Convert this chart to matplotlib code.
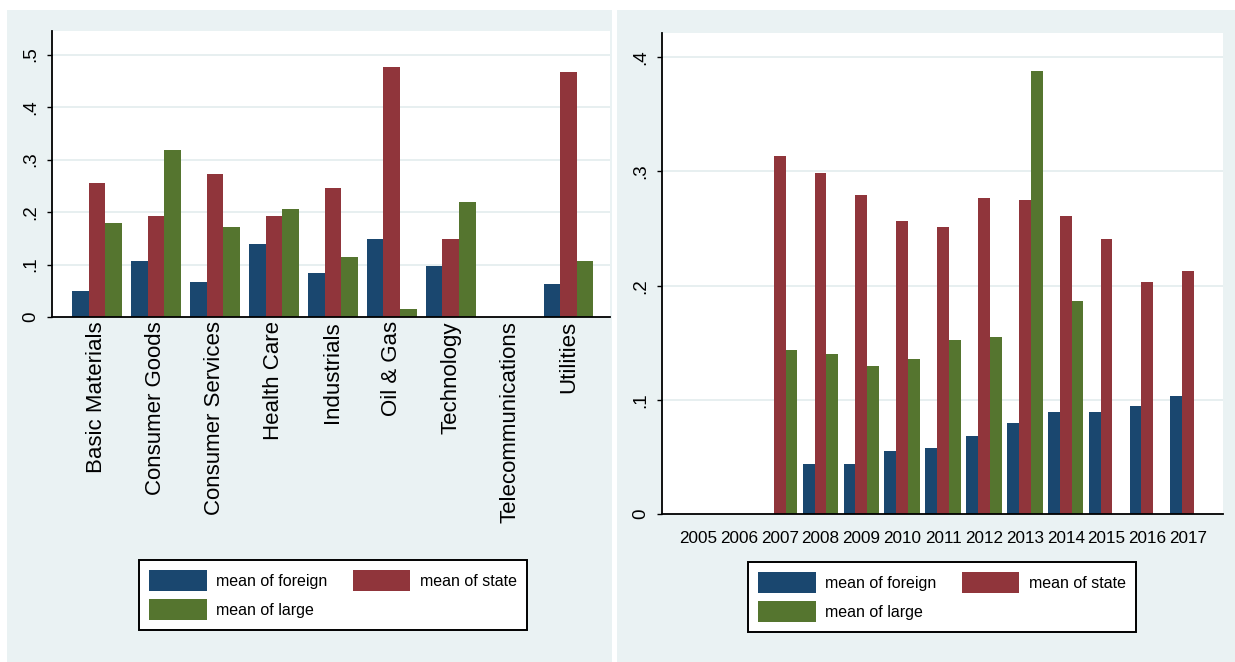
import numpy as np
import matplotlib
matplotlib.use("Agg")
import matplotlib.pyplot as plt
from matplotlib.patches import Patch, Rectangle

# Data
sectors = ["Basic Materials", "Consumer Goods", "Consumer Services", "Health Care",
           "Industrials", "Oil & Gas", "Technology", "Telecommunications", "Utilities"]
sector_foreign = [0.049, 0.106, 0.067, 0.139, 0.084, 0.149, 0.098, np.nan, 0.062]
sector_state = [0.255, 0.193, 0.273, 0.193, 0.246, 0.476, 0.149, np.nan, 0.467]
sector_large = [0.180, 0.319, 0.171, 0.206, 0.114, 0.015, 0.219, np.nan, 0.107]

years = ["2005", "2006", "2007", "2008", "2009", "2010", "2011",
         "2012", "2013", "2014", "2015", "2016", "2017"]
year_foreign = [np.nan, np.nan, np.nan, 0.044, 0.044, 0.055, 0.058,
                0.068, 0.080, 0.089, 0.089, 0.095, 0.103]
year_state = [np.nan, np.nan, 0.314, 0.299, 0.279, 0.257, 0.251,
              0.277, 0.275, 0.261, 0.241, 0.203, 0.213]
year_large = [np.nan, np.nan, 0.144, 0.140, 0.130, 0.136, 0.152,
              0.155, 0.388, 0.187, np.nan, np.nan, np.nan]

series_labels = ["mean of foreign", "mean of state", "mean of large"]
left_yticks = [0, 0.1, 0.2, 0.3, 0.4, 0.5]
right_yticks = [0, 0.1, 0.2, 0.3, 0.4]

# Stata s2color look
NAVY = "#1a476f"
MAROON = "#90353b"
FOREST = "#55752f"
PANEL_BG = "#eaf2f3"
GRID = "#e3ecee"
COLORS = [NAVY, MAROON, FOREST]

FONT = ["Liberation Sans", "DejaVu Sans"]

W, H = 1235, 662
fig = plt.figure(figsize=(W / 100, H / 100), dpi=100)
fig.patch.set_facecolor("white")

# grey graph regions behind each panel
fig.patches.append(Rectangle((7 / W, 0), (612 - 7) / W, 1 - 10 / H,
                             transform=fig.transFigure, facecolor=PANEL_BG,
                             edgecolor="none", zorder=-10))
fig.patches.append(Rectangle((617 / W, 0), (W - 617) / W, 1 - 10 / H,
                             transform=fig.transFigure, facecolor=PANEL_BG,
                             edgecolor="none", zorder=-10))


def stata_label(v):
    if v == 0:
        return "0"
    return ("%.1f" % v).lstrip("0")


def style_axes(ax, yticks, ymax):
    ax.set_facecolor("white")
    ax.set_ylim(0, ymax)
    ax.set_yticks(yticks)
    ax.set_yticklabels([stata_label(v) for v in yticks], rotation=90,
                       va="center", family=FONT, fontsize=13.5)
    for t in yticks[1:]:
        ax.axhline(t, color=GRID, lw=1.2, zorder=0)
    for side in ["top", "right"]:
        ax.spines[side].set_visible(False)
    for side in ["left", "bottom"]:
        ax.spines[side].set_color("black")
        ax.spines[side].set_linewidth(1.3)
    ax.tick_params(axis="y", length=3.5, width=1, pad=6, color="black")
    ax.tick_params(axis="x", length=0)


def add_legend(ax, cx, cy):
    patches = [Patch(facecolor=c, edgecolor="none") for c in COLORS]
    # legend fills column by column: foreign/large in the first, state in the second
    order = [0, 2, 1]
    leg = ax.legend([patches[k] for k in order], [series_labels[k] for k in order],
                    ncol=2, loc="center",
                    bbox_to_anchor=(cx / W, 1 - cy / H),
                    bbox_transform=fig.transFigure,
                    prop={"family": FONT, "size": 11.5},
                    handlelength=3.6, handleheight=1.65, handletextpad=0.6,
                    columnspacing=1.6, labelspacing=0.5, borderpad=0.6,
                    fancybox=False, framealpha=1, edgecolor="black")
    leg.get_frame().set_linewidth(1.4)


# Left panel: by sector
ax1 = fig.add_axes([52 / W, 1 - 317 / H, (610 - 52) / W, (317 - 31) / H])
x1 = np.arange(len(sectors))
w1 = 0.28
for i, vals in enumerate([sector_foreign, sector_state, sector_large]):
    ax1.bar(x1 + (i - 1) * w1, vals, width=w1, color=COLORS[i], linewidth=0, zorder=2)
style_axes(ax1, left_yticks, 0.545)
ax1.set_xlim(-0.76, 8.7)
ax1.set_xticks(x1)
ax1.set_xticklabels(sectors, rotation=90, family=FONT, fontsize=16)
ax1.tick_params(axis="x", pad=3)
add_legend(ax1, 333, 595)

# Right panel: by year
ax2 = fig.add_axes([662 / W, 1 - 514 / H, (1223 - 662) / W, (514 - 33) / H])
x2 = np.arange(len(years))
w2 = 0.29
for i, vals in enumerate([year_foreign, year_state, year_large]):
    ax2.bar(x2 + (i - 1) * w2, vals, width=w2, color=COLORS[i], linewidth=0, zorder=2)
style_axes(ax2, right_yticks, 0.4213)
ax2.set_xlim(-0.88, 12.85)
ax2.set_xticks(x2)
ax2.set_xticklabels(years, family=FONT, fontsize=12.3)
ax2.tick_params(axis="x", pad=12)
add_legend(ax2, 942, 597)

fig.savefig("out.png", dpi=100)
